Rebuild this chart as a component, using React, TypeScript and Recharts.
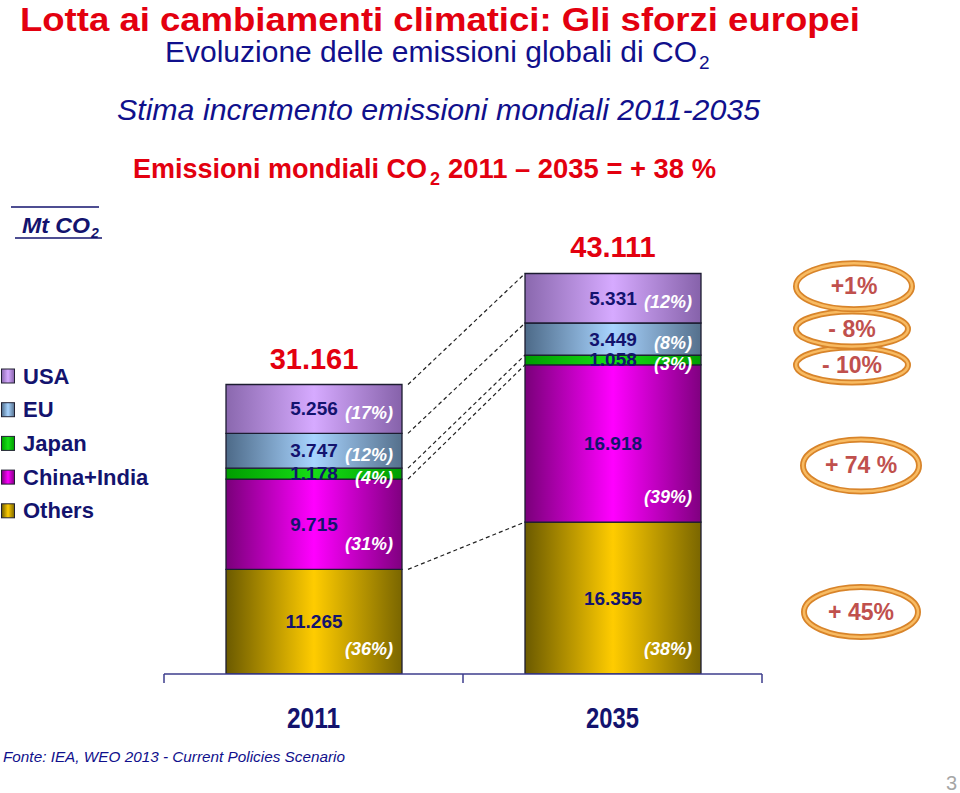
import { Bar, BarChart, LabelList, Legend, XAxis, YAxis } from 'recharts'

// categories and series (stacked bottom -> top), values in Mt CO2
const YEARS = ['2011', '2035']
const SERIES = ['Others', 'China+India', 'Japan', 'EU', 'USA']
const KEYS = ['others', 'china', 'japan', 'eu', 'usa']

const OTHERS = [11265, 16355]
const CHINA_INDIA = [9715, 16918]
const JAPAN = [1178, 1058]
const EU = [3747, 3449]
const USA = [5256, 5331]

const SHARE_OTHERS = ['(36%)', '(38%)']
const SHARE_CHINA_INDIA = ['(31%)', '(39%)']
const SHARE_JAPAN = ['(4%)', '(3%)']
const SHARE_EU = ['(12%)', '(8%)']
const SHARE_USA = ['(17%)', '(12%)']

// change 2011 -> 2035, same order as SERIES
const CHANGES = ['+ 45%', '+ 74 %', '- 10%', '- 8%', '+1%']

const VALUES = [OTHERS, CHINA_INDIA, JAPAN, EU, USA]
const SHARES = [SHARE_OTHERS, SHARE_CHINA_INDIA, SHARE_JAPAN, SHARE_EU, SHARE_USA]

const rows = YEARS.map((year, i) => {
  const r: Record<string, string | number> = { year }
  KEYS.forEach((k, s) => { r[k] = VALUES[s][i] })
  return r
})
const TOTALS = YEARS.map((_, i) => VALUES.reduce((a, v) => a + v[i], 0))
const cumulative = (s: number, i: number) => VALUES.slice(0, s + 1).reduce((a, v) => a + v[i], 0)

// layout
const W = 960
const H = 793
const PLOT_LEFT = 164
const PLOT_RIGHT = 762
const PLOT_TOP = 209.5
const PLOT_BOTTOM = 674
const AXIS_H = 60
const BAR_SIZE = 176
const BAND = (PLOT_RIGHT - PLOT_LEFT) / YEARS.length

const FONT = "'Liberation Sans', Arial, sans-serif"
const NAVY = '#13136e'
const BLUE = '#10108c'
const RED = '#e3000f'
const AXIS_COLOR = '#3d3d8c'

const FILLS: Record<string, string[]> = {
  others: ['#6b5a00', '#ffcc00', '#7a6600'],
  china: ['#7a007a', '#ff00ff', '#800080'],
  japan: ['#009c00', '#16de16', '#009c00'],
  eu: ['#4d6a88', '#a8d4ff', '#55708c'],
  usa: ['#8a68ae', '#d6aaff', '#8662aa'],
}

// badge placement relative to the 2035 segment (right edge, middle)
const BADGES = [
  { dx: 160, dy: 14, rx: 57, ry: 25 },
  { dx: 160, dy: 22, rx: 58, ry: 26 },
  { dx: 151, dy: 5, rx: 56, ry: 17.5 },
  { dx: 151, dy: -10, rx: 56, ry: 17.5 },
  { dx: 153, dy: -12, rx: 58, ry: 23 },
]

const fmt = (v: number) => `${Math.floor(v / 1000)}.${String(v % 1000).padStart(3, '0')}`

function gradient(id: string, c: string[]) {
  return (
    <linearGradient id={id} key={id} x1="0" y1="0" x2="1" y2="0">
      <stop offset="0%" stopColor={c[0]} />
      <stop offset="50%" stopColor={c[1]} />
      <stop offset="100%" stopColor={c[2]} />
    </linearGradient>
  )
}

function segmentLabel(s: number) {
  return (props: any) => {
    const vb = props.viewBox ?? props
    const { x, y, width, height } = vb
    if (x == null) return null
    const i = x < PLOT_LEFT + BAND ? 0 : 1
    const cx = x + width / 2
    const cy = y + height / 2
    const py = height > 60 ? y + height - 25 : cy + 4
    const b = BADGES[s]
    // dashed connector from the same boundary on the 2011 bar
    let connector = null
    if (i === 1) {
      const k = height / VALUES[s][1]
      const base = y + cumulative(s, 1) * k
      const y0 = base - cumulative(s, 0) * k
      connector = (
        <line x1={x - BAND + width + 6} y1={y0} x2={x} y2={y} stroke="#222222" strokeWidth={1.2} strokeDasharray="4 3" />
      )
    }
    return (
      <g fontFamily={FONT}>
        {connector}
        <text x={cx} y={cy} textAnchor="middle" dominantBaseline="central" fill={NAVY} fontSize={19} fontWeight="bold">
          {fmt(VALUES[s][i])}
        </text>
        <text x={x + width - 9} y={py} textAnchor="end" dominantBaseline="central" fill="#ffffff" fontSize={18} fontWeight="bold" fontStyle="italic">
          {SHARES[s][i]}
        </text>
        {s === SERIES.length - 1 && (
          <text x={cx} y={y - 26} textAnchor="middle" dominantBaseline="central" fill={RED} fontSize={29} fontWeight="bold">
            {fmt(TOTALS[i])}
          </text>
        )}
        {i === 1 && (
          <g>
            <ellipse cx={x + width + b.dx} cy={cy + b.dy} rx={b.rx} ry={b.ry} fill="#ffffff" stroke="#d8842a" strokeWidth={6} />
            <ellipse cx={x + width + b.dx} cy={cy + b.dy} rx={b.rx} ry={b.ry} fill="none" stroke="#f8bb62" strokeWidth={2.5} />
            <text x={x + width + b.dx} y={cy + b.dy} textAnchor="middle" dominantBaseline="central" fill="#c0504d" fontSize={23} fontWeight="bold">
              {CHANGES[s]}
            </text>
          </g>
        )}
      </g>
    )
  }
}

function YearTick(props: any) {
  const { x, y, payload } = props
  const last = payload.value === YEARS[YEARS.length - 1]
  return (
    <g>
      <line x1={x - BAND / 2} y1={y} x2={x - BAND / 2} y2={y + 9} stroke={AXIS_COLOR} strokeWidth={1.5} />
      {last && <line x1={x + BAND / 2} y1={y} x2={x + BAND / 2} y2={y + 9} stroke={AXIS_COLOR} strokeWidth={1.5} />}
      <text x={x} y={y + 54} textAnchor="middle" fontFamily={FONT} fontSize={30} fontWeight="bold" fill={NAVY} textLength={53} lengthAdjust="spacingAndGlyphs">
        {payload.value}
      </text>
    </g>
  )
}

function LegendBox() {
  const order = SERIES.map((_, s) => s).reverse()
  return (
    <svg width={160} height={170}>
      <defs>{KEYS.map((k) => gradient(`lg-${k}`, FILLS[k]))}</defs>
      {order.map((s, j) => {
        const cy = 18 + j * 33.7
        return (
          <g key={s}>
            <rect x={1.5} y={cy - 7} width={13} height={14} fill={`url(#lg-${KEYS[s]})`} stroke="#222233" strokeWidth={1} />
            <text x={23} y={cy} dominantBaseline="central" fontFamily={FONT} fontSize={22} fontWeight="bold" fill={NAVY}>
              {SERIES[s]}
            </text>
          </g>
        )
      })}
    </svg>
  )
}

function Titles() {
  return (
    <svg width={W} height={H} style={{ position: 'absolute', left: 0, top: 0, pointerEvents: 'none' }} fontFamily={FONT}>
      <text x={20} y={31} fontSize={34} fontWeight="bold" fill={RED} textLength={840} lengthAdjust="spacingAndGlyphs">
        Lotta ai cambiamenti climatici: Gli sforzi europei
      </text>
      <text x={165} y={62} fontSize={30} fill={BLUE} textLength={532} lengthAdjust="spacingAndGlyphs">
        Evoluzione delle emissioni globali di CO
      </text>
      <text x={699} y={69} fontSize={19} fill={BLUE}>2</text>
      <text x={117} y={120} fontSize={30} fontStyle="italic" fill={BLUE} textLength={643} lengthAdjust="spacingAndGlyphs">
        Stima incremento emissioni mondiali 2011-2035
      </text>
      <text x={133} y={178} fontSize={27} fontWeight="bold" fill={RED} textLength={294} lengthAdjust="spacingAndGlyphs">
        Emissioni mondiali CO
      </text>
      <text x={430} y={185} fontSize={18} fontWeight="bold" fill={RED}>2</text>
      <text x={448} y={178} fontSize={27} fontWeight="bold" fill={RED} textLength={268} lengthAdjust="spacingAndGlyphs">
        2011 – 2035 = + 38 %
      </text>
      <line x1={11} y1={207} x2={99} y2={207} stroke={NAVY} strokeWidth={1.5} />
      <text x={22} y={233} fontSize={22} fontWeight="bold" fontStyle="italic" fill={NAVY} textLength={68} lengthAdjust="spacingAndGlyphs">
        Mt CO
      </text>
      <text x={91} y={238} fontSize={14} fontWeight="bold" fontStyle="italic" fill={NAVY}>2</text>
      <line x1={15} y1={238} x2={102} y2={238} stroke={NAVY} strokeWidth={1.5} />
      <text x={3} y={762} fontSize={15} fontStyle="italic" fill={BLUE} textLength={342} lengthAdjust="spacingAndGlyphs">
        Fonte: IEA, WEO 2013 -  Current Policies Scenario
      </text>
      <text x={957} y={790} textAnchor="end" fontSize={20} fill="#a6a6a6">3</text>
    </svg>
  )
}

export default function App() {
  return (
    <div style={{ position: 'absolute', left: 0, top: 0, width: W, height: H, background: '#ffffff' }}>
      <BarChart
        width={W}
        height={H}
        data={rows}
        margin={{ top: PLOT_TOP, right: W - PLOT_RIGHT, bottom: H - PLOT_BOTTOM - AXIS_H, left: PLOT_LEFT }}
      >
        <defs>{KEYS.map((k) => gradient(`g-${k}`, FILLS[k]))}</defs>
        <XAxis
          dataKey="year"
          height={AXIS_H}
          tickLine={false}
          tickSize={0}
          tickMargin={0}
          axisLine={{ stroke: AXIS_COLOR, strokeWidth: 1.5 }}
          tick={<YearTick />}
          interval={0}
        />
        <YAxis domain={[0, 50000]} allowDataOverflow hide />
        <Legend
          layout="vertical"
          align="center"
          verticalAlign="middle"
          wrapperStyle={{ left: 0, top: 358, width: 160, height: 170 }}
          content={() => <LegendBox />}
        />
        {KEYS.map((k, s) => (
          <Bar
            key={k}
            dataKey={k}
            name={SERIES[s]}
            stackId="em"
            barSize={BAR_SIZE}
            fill={`url(#g-${k})`}
            stroke="#1c1c30"
            strokeWidth={1.3}
            isAnimationActive={false}
          >
            <LabelList dataKey={k} content={segmentLabel(s)} />
          </Bar>
        ))}
      </BarChart>
      <Titles />
    </div>
  )
}
